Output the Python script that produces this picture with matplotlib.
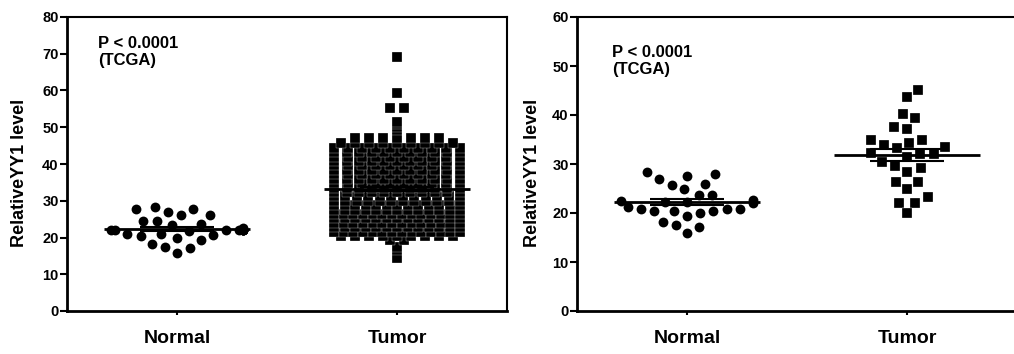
import numpy as np
import matplotlib
matplotlib.use("Agg")
import matplotlib.pyplot as plt

plt.rcParams['font.family'] = ['Liberation Sans', 'DejaVu Sans']
plt.rcParams['font.weight'] = 'bold'

groups = ['Normal', 'Tumor']
ylabel = 'RelativeYY1 level'
annot = 'P < 0.0001\n(TCGA)'

# left panel: all TCGA samples
left_normal = [22.0, 23.6, 20.9, 22.5, 27.7, 19.3, 22.0, 22.0, 27.0, 17.5, 22.0,
               24.5, 21.0, 26.1, 15.9, 22.0, 22.0, 26.1, 17.1, 20.3, 22.0, 22.0,
               27.7, 18.1, 20.6, 22.0, 23.4, 28.4, 20.0, 24.6, 21.9]
# tumor cloud read row by row (level, number of squares on that row)
left_tumor_levels = [14.4, 16.6, 17.5, 19.3, 20.4, 21.6, 22.8, 24.0, 25.2, 26.4,
                     27.6, 28.8, 30.0, 31.2, 32.4, 33.6, 34.8, 36.0, 37.2, 38.4,
                     39.6, 40.8, 42.0, 43.2, 44.4, 45.6, 47.0, 49.3, 50.2, 50.9,
                     51.5, 55.2, 59.4, 69.2]
left_tumor_counts = [1, 1, 1, 2, 9, 14, 13, 14, 13, 14,
                     13, 13, 12, 12, 11, 11, 10, 11, 10, 11,
                     10, 11, 10, 11, 10, 9, 7, 1, 1, 1,
                     1, 2, 1, 1]
left_tumor = np.repeat(left_tumor_levels, left_tumor_counts)

# right panel: paired TCGA samples
right_normal = [28.3, 27.6, 26.0, 25.8, 27.0, 27.9, 24.9, 23.6, 23.6, 22.6, 22.3,
                22.0, 20.9, 20.8, 20.4, 20.1, 19.4, 20.4, 20.4, 20.9, 21.3, 17.5,
                17.2, 18.2, 16.0, 22.4, 22.2]
right_tumor = [45.2, 43.6, 40.3, 39.3, 37.5, 37.1, 34.8, 33.9, 33.2, 33.4, 34.3,
               35.0, 32.2, 31.4, 32.0, 32.0, 28.4, 29.5, 30.5, 29.1, 26.4, 26.4,
               24.9, 22.1, 23.2, 22.1, 19.9]


def px_per_unit(ax):
    t = ax.transData.transform
    return t((1, 0))[0] - t((0, 0))[0]


def swarm_offsets(ax, values, d, cap):
    # simple beeswarm in pixel space, like a column scatter plot
    values = np.asarray(values, float)
    ppu = px_per_unit(ax)
    ys = ax.transData.transform(np.column_stack([np.zeros(len(values)), values]))[:, 1]
    xs = np.zeros(len(values))
    placed = []
    for i in np.argsort(values, kind='stable'):
        y = ys[i]
        near = [(px, py) for px, py in placed if abs(py - y) < d]
        cands = [0.0]
        for px, py in near:
            dx = np.sqrt(d * d - (py - y) ** 2)
            cands += [px + dx, px - dx]
        cands.sort(key=abs)
        best = cands[0]
        for c in cands:
            if all((c - px) ** 2 + (y - py) ** 2 >= d * d - 1e-6 for px, py in near):
                best = c
                break
        best = float(np.clip(best, -cap, cap))
        placed.append((best, y))
        xs[i] = best / ppu
    return xs


def row_offsets(ax, values, step, cap):
    # points sharing a level are spread on one row, squeezed when too many
    values = np.asarray(values, float)
    ppu = px_per_unit(ax)
    xs = np.zeros(len(values))
    for v in np.unique(values):
        idx = np.where(values == v)[0]
        n = len(idx)
        sp = step if n < 2 else min(step, 2 * cap / (n - 1))
        xs[idx] = (np.arange(n) - (n - 1) / 2) * sp / ppu
    return xs


def draw_panel(ax, normal, tumor, ymax, tumor_rows, text_x, text_y, label_x):
    ax.set_xlim(-0.5, 1.5)
    ax.set_ylim(0, ymax)

    xn = swarm_offsets(ax, normal, 13.5, 66)
    if tumor_rows:
        xt = row_offsets(ax, tumor, 14, 63)
    else:
        xt = swarm_offsets(ax, tumor, 13.5, 66)

    ax.scatter(0 + xn, normal, marker='o', s=50, c='black', linewidths=0, zorder=3)
    ax.scatter(1 + xt, tumor, marker='s', s=52, c='black',
               edgecolors='white', linewidths=0.2, zorder=3)

    for i, vals in enumerate([normal, tumor]):
        vals = np.asarray(vals, float)
        m = vals.mean()
        sem = vals.std(ddof=1) / np.sqrt(len(vals))
        ax.hlines(m, i - 0.33, i + 0.33, color='black', lw=2, zorder=4)
        ax.hlines([m - sem, m + sem], i - 0.17, i + 0.17, color='black', lw=1.5, zorder=4)

    ax.set_xticks([0, 1])
    ax.set_xticklabels(groups, fontsize=14, fontweight='bold')
    ax.set_yticks(np.arange(0, ymax + 1, 10))
    ax.tick_params(axis='y', length=5, width=1.5, labelsize=10.5, pad=1)
    ax.tick_params(axis='x', length=3, width=1.5, pad=11)
    for lab in ax.get_yticklabels():
        lab.set_fontweight('bold')
    for side in ['left', 'bottom']:
        ax.spines[side].set_linewidth(2)
    for side in ['top', 'right']:
        ax.spines[side].set_linewidth(1.5)
    ax.set_ylabel(ylabel, fontsize=13, fontweight='bold')
    ax.yaxis.set_label_coords(label_x, 0.469)
    ax.text(text_x, text_y, annot, transform=ax.transAxes,
            fontsize=12, fontweight='bold', va='top', ha='left', linespacing=1.15)


fig = plt.figure(figsize=(10.14, 3.54), dpi=100)
ax1 = fig.add_axes([67 / 1014, 43 / 354, 440 / 1014, 294 / 354])
ax2 = fig.add_axes([577 / 1014, 43 / 354, 440 / 1014, 294 / 354])

draw_panel(ax1, left_normal, left_tumor, 80, True, 0.07, 0.935, -0.088)
draw_panel(ax2, right_normal, right_tumor, 60, False, 0.08, 0.905, -0.081)

fig.savefig('out.png', dpi=100)
